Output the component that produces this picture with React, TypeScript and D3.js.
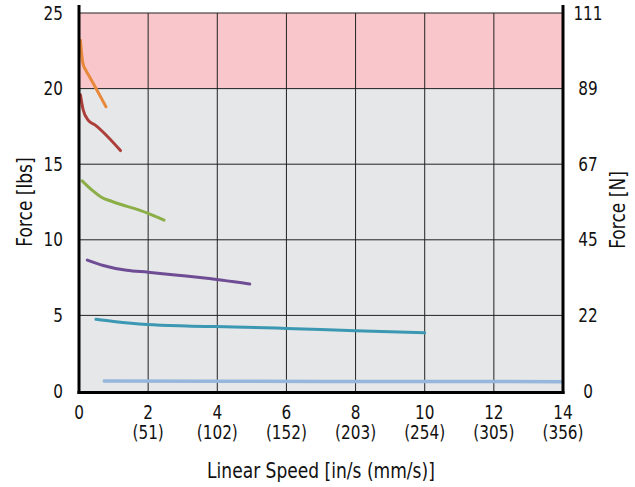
import React from "react";
import * as d3 from "d3";

const xTicks = [0, 2, 4, 6, 8, 10, 12, 14];
const xTickMm = ["", "(51)", "(102)", "(152)", "(203)", "(254)", "(305)", "(356)"];
const yTicks = [0, 5, 10, 15, 20, 25];
const yTicksN = ["0", "22", "45", "67", "89", "111"];

const orangeX = [0.04, 0.11, 0.2, 0.3, 0.78];
const orangeY = [23.2, 21.7, 21.2, 20.8, 18.8];
const redX = [0.04, 0.12, 0.27, 0.46, 1.2];
const redY = [19.6, 18.6, 17.9, 17.6, 15.9];
const greenX = [0.09, 0.37, 0.66, 0.94, 2.0, 2.46];
const greenY = [13.9, 13.3, 12.8, 12.55, 11.75, 11.3];
const purpleX = [0.24, 0.7, 1.38, 2.0, 3.5, 4.94];
const purpleY = [8.66, 8.3, 7.98, 7.86, 7.5, 7.08];
const tealX = [0.49, 1.0, 1.97, 3.11, 4.5, 6.0, 8.0, 10.0];
const tealY = [4.74, 4.6, 4.4, 4.3, 4.24, 4.14, 3.99, 3.86];
const blueX = [0.73, 4, 8, 13.95];
const blueY = [0.66, 0.64, 0.63, 0.62];

const series = [
  { xs: orangeX, ys: orangeY, color: "#e8883a", w: 3 },
  { xs: redX, ys: redY, color: "#ad3f3b", w: 3 },
  { xs: greenX, ys: greenY, color: "#8bae47", w: 3 },
  { xs: purpleX, ys: purpleY, color: "#6e4d95", w: 3 },
  { xs: tealX, ys: tealY, color: "#3b98b3", w: 3 },
  { xs: blueX, ys: blueY, color: "#96b7dc", w: 3.5 },
];

const FONT = "'DejaVu Sans Condensed', 'Roboto', sans-serif";

export default function App() {
  const W = 635, H = 487;
  const x = d3.scaleLinear().domain([0, 14]).range([79, 563]);
  const y = d3.scaleLinear().domain([0, 25]).range([391, 13]);
  const line = d3.line<[number, number]>().x(d => x(d[0])).y(d => y(d[1])).curve(d3.curveMonotoneX);

  return (
    <svg width={W} height={H} style={{ position: "absolute", left: 0, top: 0, background: "#fff" }} fontFamily={FONT}>
      <rect x={x(0)} y={y(20)} width={x(14) - x(0)} height={y(0) - y(20)} fill="#e6e7e9" />
      <rect x={x(0)} y={y(25)} width={x(14) - x(0)} height={y(20) - y(25)} fill="#f9c6cb" />
      {xTicks.slice(1, -1).map(t => (
        <line key={"gx" + t} x1={x(t)} x2={x(t)} y1={y(25)} y2={y(0)} stroke="#222" strokeWidth={1} />
      ))}
      {yTicks.slice(1).map(t => (
        <line key={"gy" + t} x1={x(0)} x2={x(14)} y1={y(t)} y2={y(t)} stroke="#222" strokeWidth={1} />
      ))}
      {series.map((s, i) => (
        <path key={i} d={line(s.xs.map((v, j) => [v, s.ys[j]] as [number, number])) || ""} fill="none"
          stroke={s.color} strokeWidth={s.w} strokeLinecap="round" strokeLinejoin="round" />
      ))}
      <line x1={x(0)} x2={x(0)} y1={5} y2={y(0) + 3} stroke="#000" strokeWidth={3} />
      <line x1={x(14)} x2={x(14)} y1={5} y2={y(0) + 3} stroke="#000" strokeWidth={3} />
      <line x1={x(0) - 1.5} x2={x(14) + 1.5} y1={y(0) + 1.5} y2={y(0) + 1.5} stroke="#000" strokeWidth={3} />
      <g transform="scale(1,1.12)">
      {yTicks.map(t => (
        <text key={"ly" + t} x={63} y={y(t) / 1.12} dy="0.35em" textAnchor="end" fontSize={17} fill="#111">{t}</text>
      ))}
      {yTicks.map((t, i) => (
        <text key={"ry" + t} x={588} y={y(t) / 1.12} dy="0.35em" textAnchor="middle" fontSize={17} fill="#111">{yTicksN[i]}</text>
      ))}
      {xTicks.map((t, i) => (
        <g key={"lx" + t}>
          <text x={x(t)} y={412 / 1.12} dy="0.35em" textAnchor="middle" fontSize={17} fill="#111">{t}</text>
          {xTickMm[i] && (
            <text x={x(t)} y={432 / 1.12} dy="0.35em" textAnchor="middle" fontSize={17} fill="#111">{xTickMm[i]}</text>
          )}
        </g>
      ))}
      <text x={(x(0) + x(14)) / 2} y={471 / 1.12} dy="0.35em" textAnchor="middle" fontSize={19} fill="#111">Linear Speed [in/s (mm/s)]</text>
      </g>
      <text transform={`translate(25,${(y(0) + y(25)) / 2}) rotate(-90) scale(1,1.12)`} dy="0.35em" textAnchor="middle" fontSize={19} fill="#111">Force [lbs]</text>
      <text transform={`translate(618,${(y(0) + y(25)) / 2 + 8}) rotate(-90) scale(1,1.12)`} dy="0.35em" textAnchor="middle" fontSize={19} fill="#111">Force [N]</text>
    </svg>
  );
}
